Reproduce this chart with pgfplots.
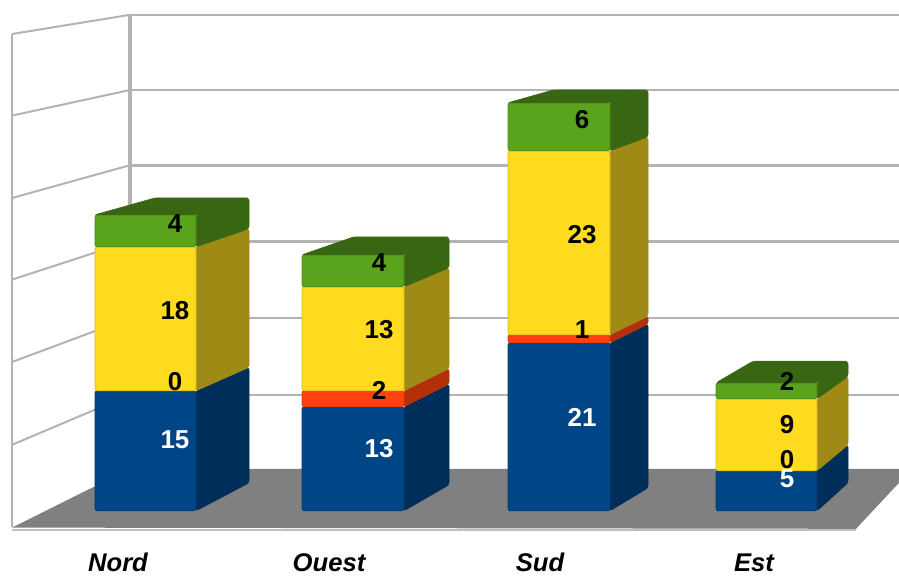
\documentclass[border=0pt]{standalone}
\usepackage{pgfplots}
\pgfplotsset{compat=1.18}
\usepackage{fontspec}
\setmainfont{Liberation Sans}
\definecolor{bF}{HTML}{004586}\definecolor{bS}{HTML}{002E5A}
\definecolor{rF}{HTML}{FF420E}\definecolor{rS}{HTML}{B3300A}
\definecolor{yF}{HTML}{FFDB20}\definecolor{yS}{HTML}{A08A16}
\definecolor{gF}{HTML}{5AA31C}\definecolor{gS}{HTML}{386612}
\definecolor{gridc}{HTML}{B3B3B3}
\definecolor{floorc}{HTML}{808080}
% geometry of one bar: front left, front right, back right, back left, back base pixel, back pixel scale
\newcommand{\setbar}[6]{\def\xl{#1}\def\xr{#2}\def\xbr{#3}\def\xbl{#4}\def\bb{#5}\def\bk{#6}}
\newcommand{\seg}[4]{%
  \pgfmathsetmacro\ba{(510-(\bb-\bk*#1))/8}%
  \pgfmathsetmacro\bc{(510-(\bb-\bk*#2))/8}%
  \edef\tmp{\noexpand\addplot[fill=#4,draw=#4,line width=0.6bp,rounded corners=2.5bp] coordinates {(\xr,#1)(\xbr,\ba)(\xbr,\bc)(\xr,#2)} -- cycle;}\tmp
  \edef\tmp{\noexpand\addplot[fill=#3,draw=#3!85!black,line width=0.8bp,rounded corners=2.5bp] coordinates {(\xl,#1)(\xr,#1)(\xr,#2)(\xl,#2)} -- cycle;}\tmp
}
\newcommand{\topface}[2]{%
  \pgfmathsetmacro\bc{(510-(\bb-\bk*#1))/8}%
  \edef\tmp{\noexpand\addplot[fill=#2,draw=#2,line width=0.6bp,rounded corners=2.5bp] coordinates {(\xl,#1)(\xr,#1)(\xbr,\bc)(\xbl,\bc)} -- cycle;}\tmp
}
% label at pixel position
\newcommand{\val}[4]{\pgfmathsetmacro\ly{(510.7-#2)/8}\edef\tmp{\noexpand\node[text=#4,font=\noexpand\fontsize{26}{26}\noexpand\selectfont\noexpand\bfseries,inner sep=0pt] at (axis cs:#1,\ly) {#3};}\tmp}
\begin{document}
\begin{tikzpicture}
\begin{axis}[
  x=1bp,y=8bp,
  xmin=0,xmax=899,ymin=-7.91,ymax=63.84,
  axis line style={draw=none},
  major tick length=0pt,
  ytick=\empty,
  xtick={118,329,540,754},
  xticklabels={Nord,Ouest,Sud,Est},
  xticklabel style={anchor=center,yshift=11.3bp,font=\fontsize{25.7}{26}\selectfont\bfseries\itshape},
  clip=true,
]
% back wall grid
\addplot[gridc,line width=2bp] coordinates {(130,62)(899,62)};
\addplot[gridc,line width=2.6bp] coordinates {(130,52.6)(899,52.6)};
\addplot[gridc,line width=2.6bp] coordinates {(130,43.2)(899,43.2)};
\addplot[gridc,line width=2.6bp] coordinates {(130,33.7)(899,33.7)};
\addplot[gridc,line width=2.6bp] coordinates {(130,24.1)(899,24.1)};
\addplot[gridc,line width=2.6bp] coordinates {(130,14.5)(899,14.5)};
\addplot[gridc,line width=3.4bp] coordinates {(130,62)(130,5)};
% left wall
\addplot[gridc,line width=1.6bp] coordinates {(12,59.6)(12,-2)};
\addplot[gridc,line width=2bp] coordinates {(12,59.6)(130,62)};
\addplot[gridc,line width=2bp] coordinates {(12,49.4)(130,52.6)};
\addplot[gridc,line width=2bp] coordinates {(12,39.1)(130,43.2)};
\addplot[gridc,line width=2bp] coordinates {(12,28.9)(130,33.7)};
\addplot[gridc,line width=2bp] coordinates {(12,18.6)(130,24.1)};
\addplot[gridc,line width=2bp] coordinates {(12,8.25)(130,14.5)};
% floor
\addplot[fill=floorc,draw=none] coordinates {(12,-2.1)(130,5.25)(899,5.25)(899,3.5)(856,-2.25)} -- cycle;
\addplot[color=gray!50,line width=2bp] coordinates {(12,-2.4)(856,-2.4)};
% Nord 15 0 18 4
\setbar{95}{196}{249}{155}{482}{7.7}
\seg{0}{15}{bF}{bS}
\seg{15}{33}{yF}{yS}
\seg{33}{37}{gF}{gS}
\topface{37}{gS}
% Ouest 13 2 13 4
\setbar{302}{404}{449}{354}{484}{7.75}
\seg{0}{13}{bF}{bS}
\seg{13}{15}{rF}{rS}
\seg{15}{28}{yF}{yS}
\seg{28}{32}{gF}{gS}
\topface{32}{gS}
% Sud 21 1 23 6
\setbar{508}{610}{648}{553}{487}{7.8}
\seg{0}{21}{bF}{bS}
\seg{21}{22}{rF}{rS}
\seg{22}{45}{yF}{yS}
\seg{45}{51}{gF}{gS}
\topface{51}{gS}
% Est 5 0 9 2
\setbar{716}{817}{848}{753}{482}{7.6}
\seg{0}{5}{bF}{bS}
\seg{5}{14}{yF}{yS}
\seg{14}{16}{gF}{gS}
\topface{16}{gS}
% labels
\val{175}{440}{15}{white}
\val{175}{381}{0}{black}
\val{175}{310}{18}{black}
\val{175}{223}{4}{black}
\val{379}{448}{13}{white}
\val{379}{390}{2}{black}
\val{379}{329}{13}{black}
\val{379}{262}{4}{black}
\val{582}{417}{21}{white}
\val{582}{329}{1}{black}
\val{582}{234}{23}{black}
\val{582}{119}{6}{black}
\val{787}{459}{0}{black}
\val{787}{479}{5}{white}
\val{787}{424}{9}{black}
\val{787}{381}{2}{black}
\end{axis}
\end{tikzpicture}
\end{document}
